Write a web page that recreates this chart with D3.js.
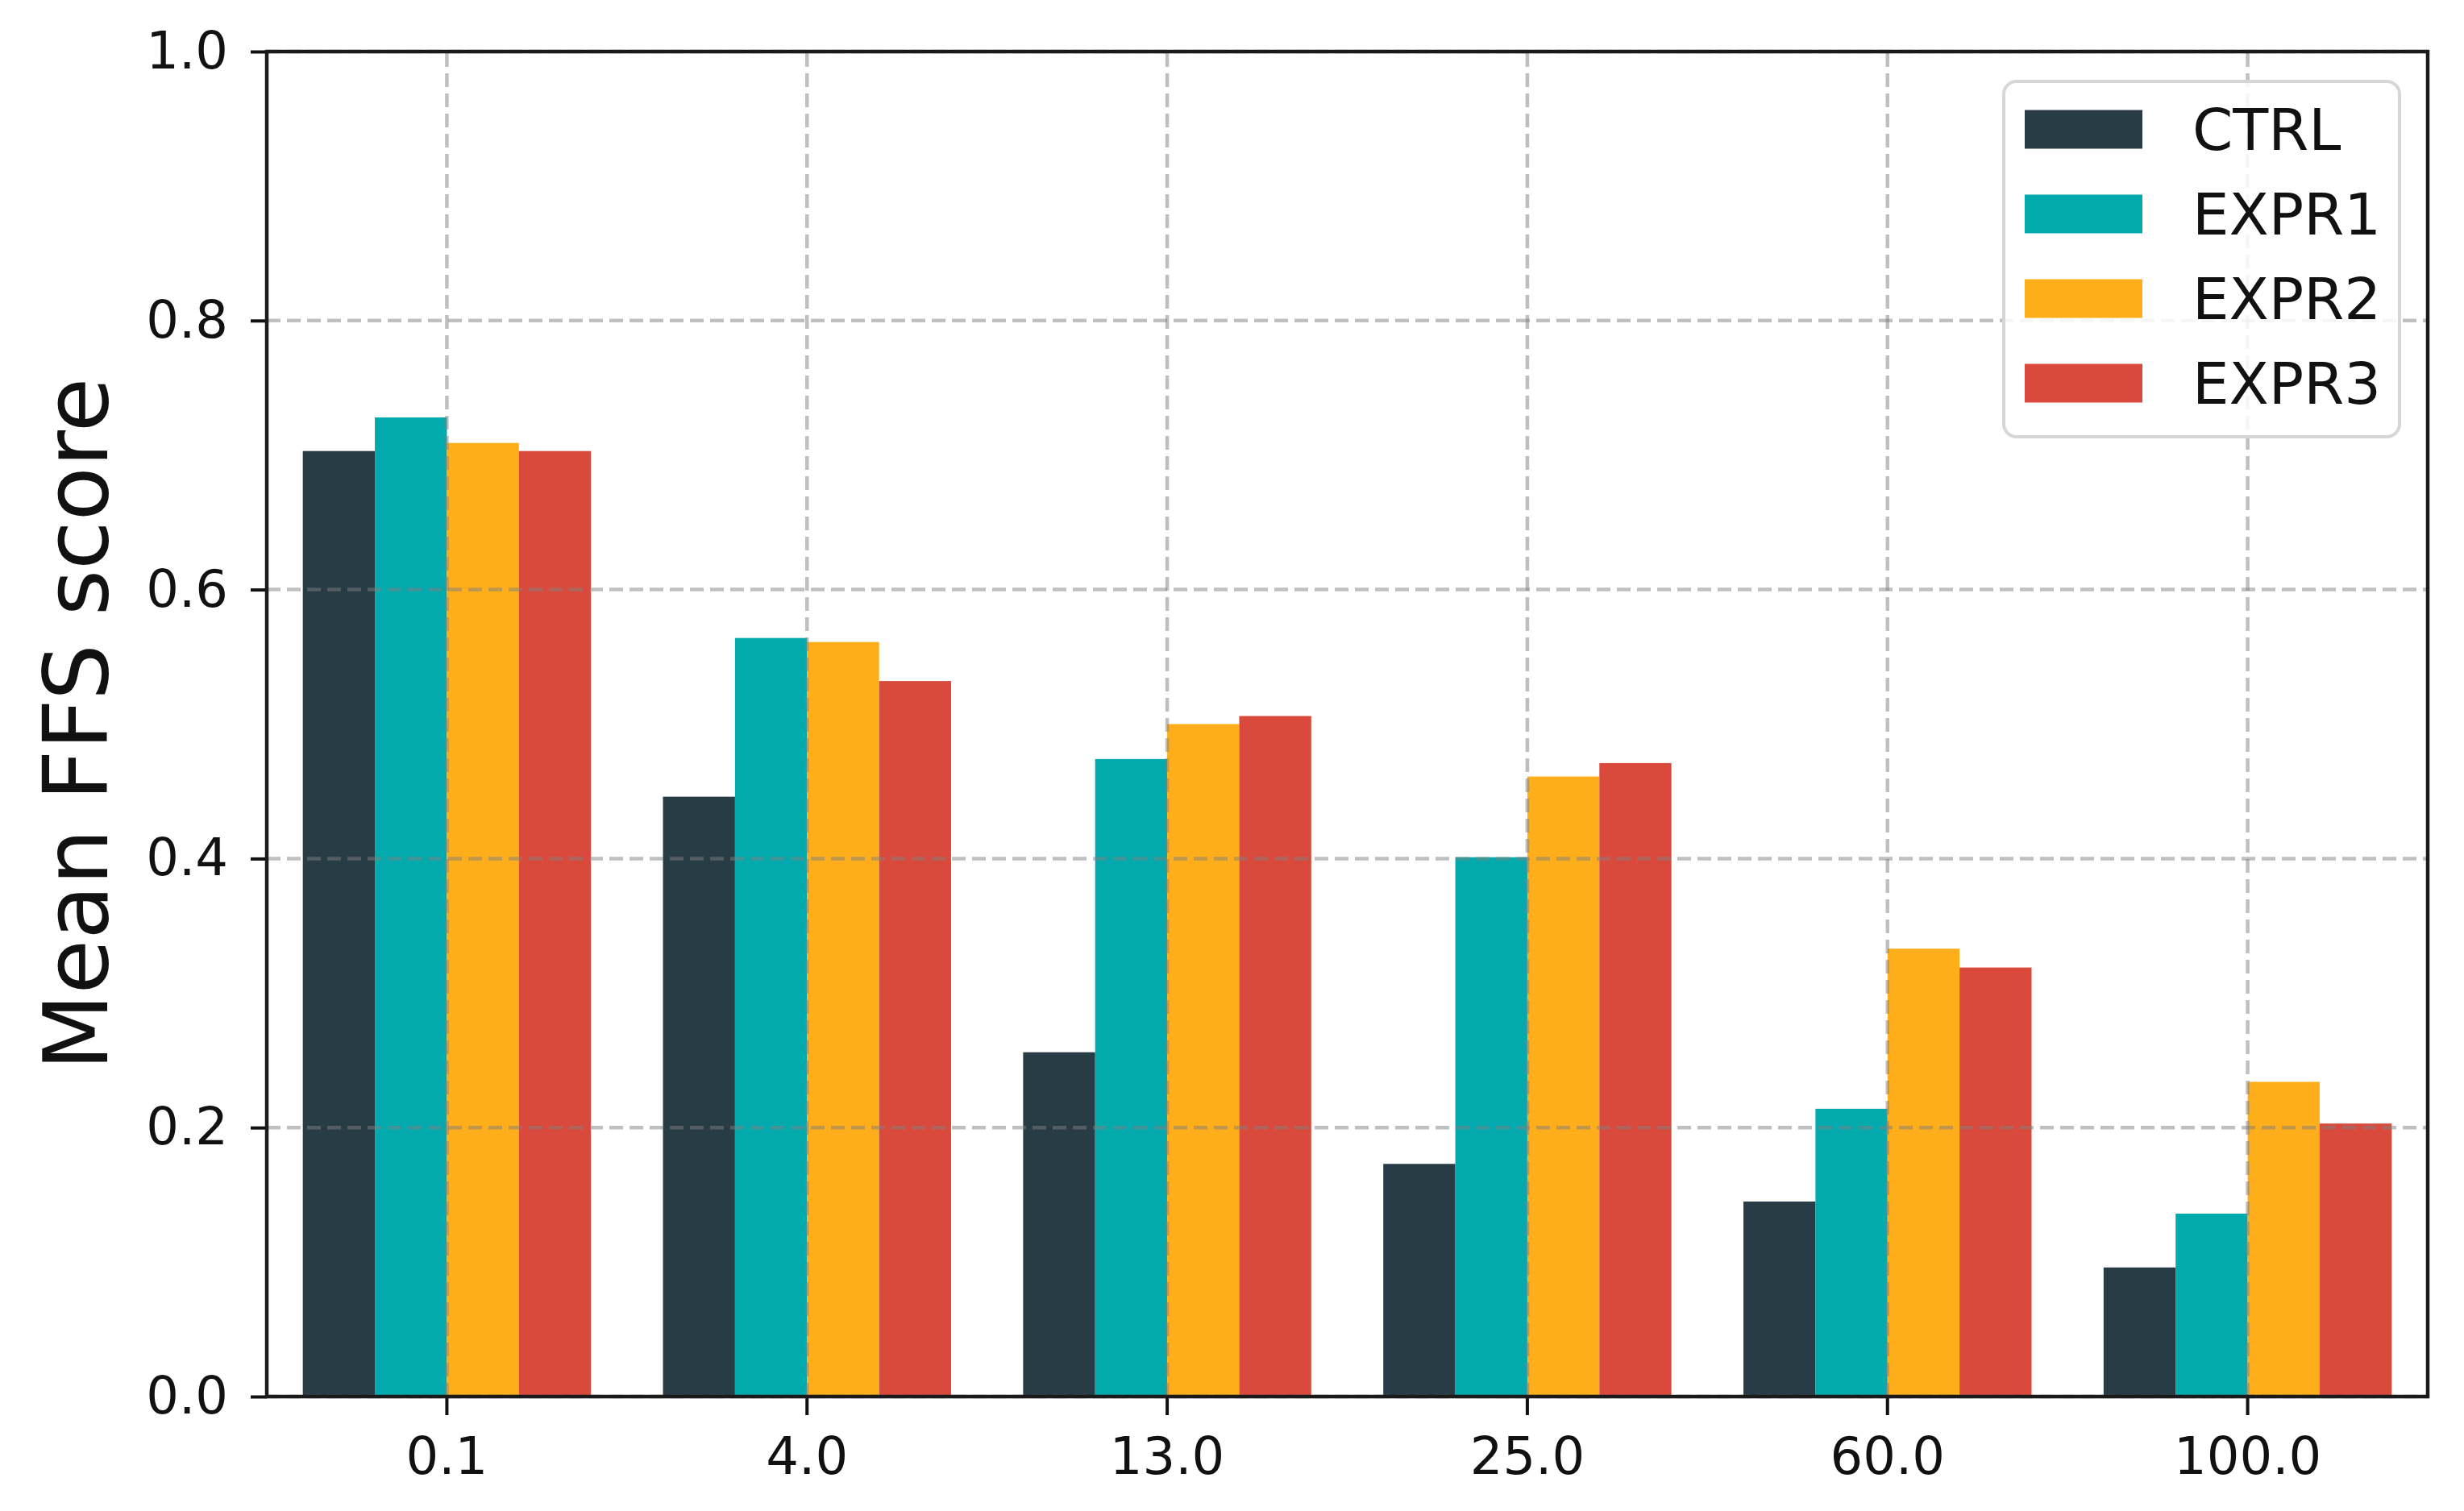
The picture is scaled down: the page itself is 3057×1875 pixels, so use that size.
<!DOCTYPE html>
<html>
<head>
<meta charset="utf-8">
<script src="https://cdn.jsdelivr.net/npm/d3@7"></script>
<style>
  html, body { margin: 0; padding: 0; background: #fff; }
  svg { display: block; }
  text { font-family: "DejaVu Sans", sans-serif; fill: #111; }
</style>
</head>
<body>
<svg id="chart" width="3057" height="1875"></svg>
<script>
const categories = ["0.1", "4.0", "13.0", "25.0", "60.0", "100.0"];
const seriesNames = ["CTRL", "EXPR1", "EXPR2", "EXPR3"];
const ctrl  = [0.703, 0.446, 0.256, 0.173, 0.145, 0.096];
const expr1 = [0.728, 0.564, 0.474, 0.401, 0.214, 0.136];
const expr2 = [0.709, 0.561, 0.500, 0.461, 0.333, 0.234];
const expr3 = [0.703, 0.532, 0.506, 0.471, 0.319, 0.203];
const yTicks = [0.0, 0.2, 0.4, 0.6, 0.8, 1.0];
const colors = ["#283c45", "#02aaad", "#fdae1a", "#da4a3c"];
const yLabel = "Mean FFS score";

const seriesValues = [ctrl, expr1, expr2, expr3];

const W = 3057, H = 1875;
const M = { left: 331, right: W - 3012, top: 64, bottom: H - 1733 };

const svg = d3.select("#chart");

const x0 = d3.scaleBand()
  .domain(categories)
  .range([M.left, W - M.right])
  .paddingInner(0.2)
  .paddingOuter(0.1);

const x1 = d3.scaleBand()
  .domain(seriesNames)
  .range([0, x0.bandwidth()]);

const y = d3.scaleLinear()
  .domain([0, 1])
  .range([H - M.bottom, M.top]);

// Bars
const groups = svg.append("g").selectAll("g")
  .data(categories)
  .join("g")
  .attr("transform", d => `translate(${x0(d)},0)`);

groups.selectAll("rect")
  .data((d, i) => seriesNames.map((s, j) => ({ s, j, v: seriesValues[j][i] })))
  .join("rect")
  .attr("x", d => x1(d.s))
  .attr("width", x1.bandwidth())
  .attr("y", d => y(d.v))
  .attr("height", d => y(0) - y(d.v))
  .attr("fill", d => colors[d.j]);

// Grid (drawn above bars, semi-transparent)
const grid = svg.append("g")
  .attr("stroke", "#808080")
  .attr("stroke-opacity", 0.5)
  .attr("stroke-width", 4.5)
  .attr("stroke-dasharray", "17,8");

grid.selectAll("line.v")
  .data(categories)
  .join("line")
  .attr("class", "v")
  .attr("x1", d => x0(d) + x0.bandwidth() / 2)
  .attr("x2", d => x0(d) + x0.bandwidth() / 2)
  .attr("y1", y(0))
  .attr("y2", y(1));

grid.selectAll("line.h")
  .data(yTicks)
  .join("line")
  .attr("class", "h")
  .attr("x1", M.left)
  .attr("x2", W - M.right)
  .attr("y1", d => y(d))
  .attr("y2", d => y(d));

// Axes
const xAxis = d3.axisBottom(x0).tickSize(23).tickPadding(28).tickSizeOuter(0);
const yAxis = d3.axisLeft(y).tickValues(yTicks).tickFormat(d3.format(".1f"))
  .tickSize(20).tickPadding(28).tickSizeOuter(0);

const gx = svg.append("g")
  .attr("transform", `translate(0,${H - M.bottom})`)
  .call(xAxis);
const gy = svg.append("g")
  .attr("transform", `translate(${M.left},0)`)
  .call(yAxis);

[gx, gy].forEach(g => {
  g.select(".domain").remove();
  g.selectAll(".tick line").attr("stroke", "#111").attr("stroke-width", 4);
  g.selectAll(".tick text")
    .attr("font-family", "DejaVu Sans, sans-serif")
    .attr("font-size", 64)
    .attr("fill", "#111");
});

// Frame (spines)
svg.append("rect")
  .attr("x", M.left)
  .attr("y", M.top)
  .attr("width", W - M.right - M.left)
  .attr("height", H - M.bottom - M.top)
  .attr("fill", "none")
  .attr("stroke", "#1a1a1a")
  .attr("stroke-width", 4.5);

// Y label
svg.append("text")
  .attr("transform", `translate(133,${(M.top + H - M.bottom) / 2}) rotate(-90)`)
  .attr("text-anchor", "middle")
  .attr("font-size", 110)
  .text(yLabel);

// Legend
const legend = svg.append("g");
legend.append("rect")
  .attr("x", 2486).attr("y", 101)
  .attr("width", 491).attr("height", 441)
  .attr("rx", 16).attr("ry", 16)
  .attr("fill", "#fff").attr("fill-opacity", 0.85)
  .attr("stroke", "#d6d6d6").attr("stroke-width", 4);

const legendRow = d3.scaleBand()
  .domain(seriesNames)
  .range([108, 528]);

const items = legend.selectAll("g.item")
  .data(seriesNames)
  .join("g")
  .attr("class", "item")
  .attr("transform", d => `translate(0,${legendRow(d) + legendRow.bandwidth() / 2})`);

items.append("rect")
  .attr("x", 2512).attr("y", -24)
  .attr("width", 146).attr("height", 48)
  .attr("fill", (d, i) => colors[i]);

items.append("text")
  .attr("x", 2720)
  .attr("dy", "0.36em")
  .attr("font-size", 72)
  .text(d => d);
</script>
</body>
</html>
